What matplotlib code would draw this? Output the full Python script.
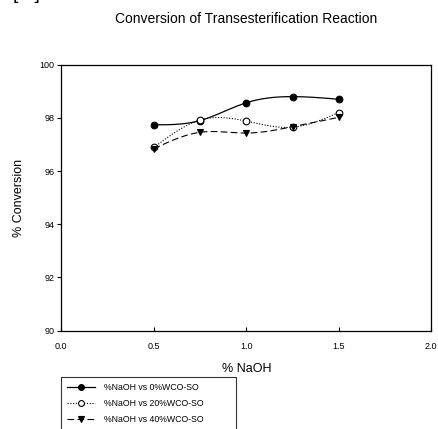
import numpy as np
import matplotlib
matplotlib.use('Agg')
import matplotlib.pyplot as plt
from matplotlib.lines import Line2D

plt.rcParams['font.family'] = ['Liberation Sans', 'DejaVu Sans']

# Data
naoh = [0.5, 0.75, 1.0, 1.25, 1.5]
conv_0 = [97.74, 97.90, 98.57, 98.80, 98.70]
conv_20 = [96.89, 97.92, 97.88, 97.65, 98.20]
conv_40 = [96.84, 97.46, 97.43, 97.67, 98.02]
labels = ['%NaOH vs 0%WCO-SO', '%NaOH vs 20%WCO-SO', '%NaOH vs 40%WCO-SO']


def natural_spline(x, y, n=200):
    # smooth curve through the points, like the original graphing package
    x = np.asarray(x, float)
    y = np.asarray(y, float)
    k = len(x)
    h = np.diff(x)
    A = np.zeros((k, k))
    b = np.zeros(k)
    A[0, 0] = A[-1, -1] = 1
    for i in range(1, k - 1):
        A[i, i - 1] = h[i - 1]
        A[i, i] = 2 * (h[i - 1] + h[i])
        A[i, i + 1] = h[i]
        b[i] = 6 * ((y[i + 1] - y[i]) / h[i] - (y[i] - y[i - 1]) / h[i - 1])
    m = np.linalg.solve(A, b)
    xs = np.linspace(x[0], x[-1], n)
    idx = np.clip(np.searchsorted(x, xs) - 1, 0, k - 2)
    x0, x1 = x[idx], x[idx + 1]
    hh = x1 - x0
    t0, t1 = x1 - xs, xs - x0
    ys = (m[idx] * t0 ** 3 / (6 * hh) + m[idx + 1] * t1 ** 3 / (6 * hh)
          + (y[idx] / hh - m[idx] * hh / 6) * t0
          + (y[idx + 1] / hh - m[idx + 1] * hh / 6) * t1)
    return xs, ys


W, H = 439, 429
fig = plt.figure(figsize=(W / 100, H / 100), dpi=100)
ax = fig.add_axes([61.3 / W, 1 - 330.7 / H, 370 / W, 266 / H])

styles = [
    dict(ls='-', marker='o', mfc='black', lw=0.9),
    dict(ls=(0, (1, 1.5)), marker='o', mfc='white', lw=0.8),
    dict(ls=(0, (6, 3)), marker='v', mfc='black', lw=0.8),
]
series = [conv_0, conv_20, conv_40]

handles = []
for y, st in zip(series, styles):
    xs, ys = natural_spline(naoh, y)
    ax.plot(xs, ys, color='black', ls=st['ls'], lw=st['lw'], zorder=2)
    ax.plot(naoh, y, ls='none', marker=st['marker'], ms=4.8, mfc=st['mfc'],
            mec='black', mew=0.8, zorder=3)
    handles.append(Line2D([], [], color='black', ls=st['ls'], lw=st['lw'],
                          marker=st['marker'], ms=4.2, mfc=st['mfc'],
                          mec='black', mew=0.8))

ax.set_xlim(0, 2.0)
ax.set_ylim(90, 100)
ax.set_xticks([0.0, 0.5, 1.0, 1.5, 2.0])
ax.set_xticklabels(['0.0', '0.5', '1.0', '1.5', '2.0'])
ax.set_yticks([90, 92, 94, 96, 98, 100])
ax.tick_params(axis='x', direction='in', length=3, width=0.8, labelsize=6.5, pad=8)
ax.tick_params(axis='y', direction='out', length=3, width=0.8, labelsize=6.5, pad=2)
for s in ax.spines.values():
    s.set_linewidth(0.9)

ax.set_xlabel('% NaOH', fontsize=9)
ax.set_ylabel('% Conversion', fontsize=9)
ax.xaxis.set_label_coords(0.5, -0.121)
ax.yaxis.set_label_coords(-0.098, 0.5)
fig.text(246.5 / W, 1 - 19 / H, 'Conversion of Transesterification Reaction',
         ha='center', va='center', fontsize=10)
fig.text(13 / W, 1.002, '[   ]', ha='left', va='baseline', fontsize=14)

leg_h = 60 / H
leg = fig.legend(handles, labels, loc='upper left',
                 bbox_to_anchor=(61 / W, 1 - 377 / H - leg_h, 175 / W, leg_h),
                 mode='expand', fontsize=6.3, frameon=True,
                 fancybox=False, handlelength=3.2, handletextpad=1.0,
                 labelspacing=0.8, borderpad=0.7, borderaxespad=0)
leg.get_frame().set_edgecolor('black')
leg.get_frame().set_linewidth(0.8)

fig.savefig('out.png', dpi=100)
